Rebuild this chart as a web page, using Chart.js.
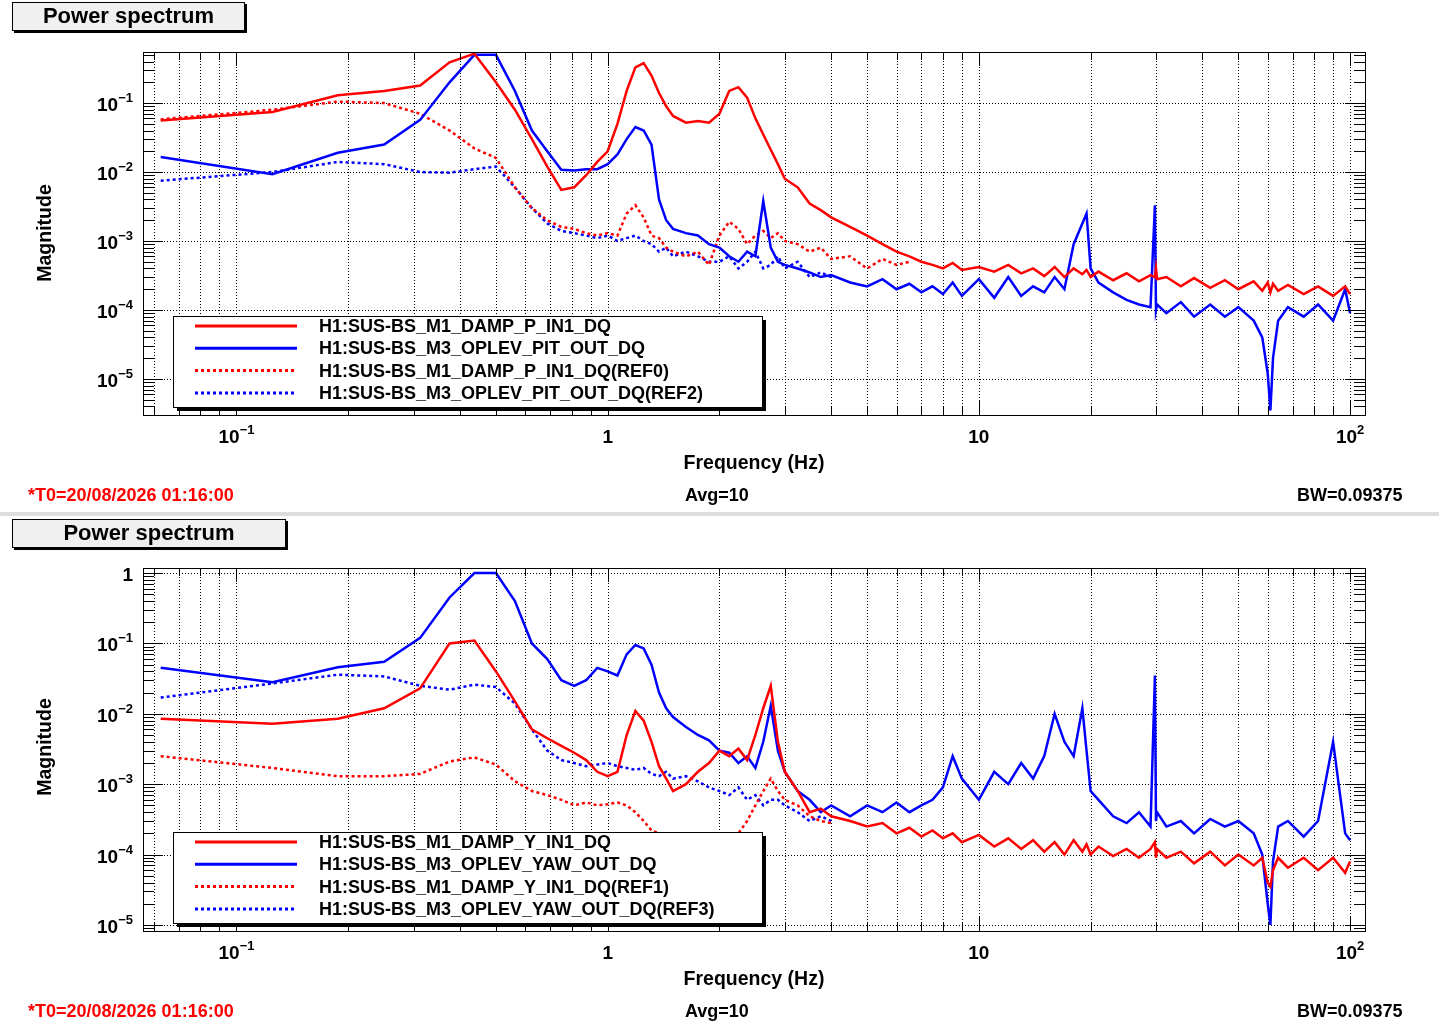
<!DOCTYPE html>
<html><head><meta charset="utf-8">
<script src="https://cdn.jsdelivr.net/npm/chart.js@4.4.0/dist/chart.umd.min.js"></script>
<style>
body{margin:0;background:#fff;width:1439px;height:1026px;overflow:hidden;position:relative;font-family:"Liberation Sans",Arial,sans-serif;font-weight:bold}
canvas{position:absolute;left:0}
.tb{position:absolute;left:12px;height:27px;background:#f0f0f0;border:1px solid #000;box-shadow:2px 2px 0 #000;font-size:22px;text-align:center;line-height:26px}
.ft{position:absolute;font-size:18px}
.sep{position:absolute;left:0;top:512px;width:1439px;height:4px;background:#ddd}
</style></head><body>
<canvas id="c1" width="1439" height="512" style="top:0"></canvas>
<canvas id="c2" width="1439" height="512" style="top:514px"></canvas>
<div class="sep"></div>
<div class="tb" style="top:2px;width:231px">Power spectrum</div>
<div class="tb" style="top:519px;width:272px">Power spectrum</div>
<div class="ft" style="left:28px;top:485px;color:#f00">*T0=20/08/2026 01:16:00</div>
<div class="ft" style="left:685px;top:485px">Avg=10</div>
<div class="ft" style="left:1297px;top:485px">BW=0.09375</div>
<div class="ft" style="left:28px;top:1001px;color:#f00">*T0=20/08/2026 01:16:00</div>
<div class="ft" style="left:685px;top:1001px">Avg=10</div>
<div class="ft" style="left:1297px;top:1001px">BW=0.09375</div>
<script>
const F=[0.0625,0.125,0.1875,0.25,0.3125,0.375,0.4375,0.5,0.5625,0.625,0.6875,0.75,0.8125,0.875,0.9375,1.0,1.0625,1.125,1.1875,1.25,1.3125,1.375,1.4375,1.5,1.625,1.75,1.875,2.0,2.125,2.25,2.375,2.5,2.625,2.75,2.875,3.0,3.25,3.5,3.75,4,4.5,5,5.5,6,6.5,7,7.5,8,8.5,9,10,11,12,13,14,15,16,17,18,19,19.5,20,21,23,25,27,29,29.8,30,30.2,32,35,38,42,46,50,55,58,60,61,62,64,68,75,82,90,97,100];

const pitchDamp=[0.056,0.074,0.13,0.15,0.18,0.39,0.52,0.2,0.08,0.03,0.012,0.0055,0.006,0.009,0.014,0.02,0.05,0.15,0.33,0.38,0.25,0.14,0.09,0.065,0.052,0.055,0.052,0.07,0.15,0.17,0.12,0.06,0.035,0.021,0.013,0.008,0.006,0.0035,0.0028,0.0022,0.0016,0.0012,0.0009,0.0007,0.0006,0.0005,0.00045,0.0004,0.00048,0.00038,0.00042,0.00036,0.00045,0.00034,0.0004,0.00031,0.00042,0.0003,0.0004,0.00033,0.00038,0.0003,0.00036,0.00027,0.00034,0.00026,0.00032,0.0003,0.0004,0.00028,0.0003,0.00022,0.00029,0.00021,0.00027,0.0002,0.00026,0.00019,0.00025,0.00018,0.00024,0.00019,0.00023,0.00017,0.00022,0.00016,0.00022,0.00017];
const pitchOplev=[0.0165,0.0093,0.019,0.025,0.057,0.2,0.5,0.5,0.15,0.04,0.02,0.0108,0.0105,0.011,0.011,0.013,0.018,0.03,0.045,0.04,0.025,0.004,0.002,0.0015,0.0013,0.0012,0.0009,0.0008,0.0006,0.0005,0.0007,0.0006,0.0038,0.0008,0.0005,0.00045,0.0004,0.00035,0.0003,0.00032,0.00025,0.00022,0.00028,0.0002,0.00024,0.00018,0.00022,0.00017,0.00025,0.00016,0.00028,0.00015,0.0003,0.00016,0.00022,0.00018,0.0003,0.0002,0.0009,0.0018,0.0025,0.0004,0.00025,0.00018,0.00014,0.00012,0.00011,0.0033,0.0001,0.00012,0.00009,0.00013,0.00008,0.00012,0.00008,0.00011,0.00007,0.00004,0.000012,0.0000035,0.00002,0.00007,0.00011,0.00008,0.00012,0.00007,0.0002,0.00009];
const pitchDampRef=[0.058,0.08,0.105,0.1,0.07,0.04,0.022,0.016,0.006,0.003,0.002,0.0016,0.0015,0.0013,0.0012,0.0013,0.0012,0.0025,0.0033,0.0022,0.0012,0.0011,0.0008,0.0007,0.0006,0.0007,0.00045,0.0012,0.0019,0.0015,0.0009,0.0012,0.0014,0.0011,0.0013,0.001,0.0009,0.0007,0.0008,0.00055,0.0006,0.0004,0.00055,0.00045,0.0005];
const pitchOplevRef=[0.0075,0.01,0.014,0.013,0.01,0.0098,0.011,0.012,0.006,0.003,0.0018,0.0014,0.0013,0.0012,0.0011,0.0012,0.001,0.0011,0.0012,0.001,0.0009,0.0007,0.0008,0.0006,0.0007,0.0006,0.0005,0.0005,0.0006,0.0004,0.0005,0.0007,0.0004,0.00045,0.0006,0.0004,0.0005,0.0003,0.00035,0.0003];

const yawDamp=[0.0085,0.0072,0.0085,0.012,0.023,0.1,0.11,0.04,0.015,0.006,0.0045,0.0035,0.0028,0.0022,0.0015,0.0013,0.0015,0.005,0.011,0.008,0.004,0.0018,0.0012,0.0008,0.001,0.0015,0.002,0.003,0.0025,0.0032,0.0022,0.005,0.012,0.025,0.004,0.0015,0.0008,0.0004,0.00045,0.00035,0.0003,0.00025,0.00028,0.0002,0.00024,0.00018,0.00022,0.00017,0.0002,0.00015,0.00019,0.00013,0.00017,0.00012,0.00016,0.00011,0.00015,0.0001,0.00016,0.00011,0.00014,0.0001,0.00013,0.000095,0.00012,0.00009,0.00012,0.00015,0.00009,0.00012,0.00009,0.00011,0.000075,0.00011,0.00007,0.0001,0.00007,0.00009,0.00004,0.000035,0.00006,0.00009,0.000065,0.00009,0.00006,0.00009,0.000055,0.00008];
const yawOplev=[0.045,0.028,0.046,0.055,0.12,0.45,1.0,1.0,0.4,0.1,0.06,0.03,0.025,0.03,0.045,0.04,0.035,0.07,0.095,0.085,0.05,0.02,0.012,0.009,0.0065,0.005,0.0042,0.003,0.0028,0.002,0.0025,0.0017,0.004,0.013,0.003,0.0015,0.0008,0.0006,0.0004,0.0005,0.00035,0.0005,0.0004,0.00055,0.0004,0.0005,0.0006,0.0009,0.0025,0.0012,0.0006,0.0015,0.001,0.002,0.0012,0.0025,0.01,0.004,0.0025,0.012,0.003,0.0008,0.0006,0.00035,0.00028,0.0004,0.00025,0.035,0.0003,0.0004,0.00025,0.0003,0.0002,0.00032,0.00025,0.0003,0.0002,0.0001,0.00002,0.00001,0.00008,0.00025,0.0003,0.00018,0.0003,0.004,0.0002,0.00016];
const yawDampRef=[0.0025,0.0017,0.0013,0.0013,0.0014,0.0021,0.0024,0.0019,0.0011,0.0008,0.0007,0.0006,0.0005,0.00055,0.0005,0.00052,0.00055,0.0005,0.0004,0.0003,0.00022,0.0002,0.00018,0.00017,0.00016,0.00016,0.00015,0.00014,0.00016,0.0002,0.0003,0.0005,0.0008,0.0012,0.0008,0.0006,0.0005,0.00035,0.0003,0.00028];
const yawOplevRef=[0.017,0.027,0.036,0.034,0.025,0.022,0.026,0.024,0.014,0.006,0.003,0.0022,0.002,0.0018,0.0019,0.002,0.0018,0.0017,0.0016,0.0017,0.0014,0.0013,0.0015,0.0012,0.0013,0.0011,0.0009,0.0008,0.0007,0.0009,0.0006,0.0007,0.0005,0.0006,0.0006,0.0005,0.0004,0.0003,0.00035,0.0003];

const xTicks=[{v:0.1,t:'10',e:'−1'},{v:1,t:'1',e:''},{v:10,t:'10',e:''},{v:100,t:'10',e:'2'}];
const yTicks1=[{v:0.1,e:'−1'},{v:0.01,e:'−2'},{v:0.001,e:'−3'},{v:0.0001,e:'−4'},{v:0.00001,e:'−5'}];
const yTicks2=[{v:1,e:''},{v:0.1,e:'−1'},{v:0.01,e:'−2'},{v:0.001,e:'−3'},{v:0.0001,e:'−4'},{v:0.00001,e:'−5'}];
const legend1=['H1:SUS-BS_M1_DAMP_P_IN1_DQ','H1:SUS-BS_M3_OPLEV_PIT_OUT_DQ','H1:SUS-BS_M1_DAMP_P_IN1_DQ(REF0)','H1:SUS-BS_M3_OPLEV_PIT_OUT_DQ(REF2)'];
const legend2=['H1:SUS-BS_M1_DAMP_Y_IN1_DQ','H1:SUS-BS_M3_OPLEV_YAW_OUT_DQ','H1:SUS-BS_M1_DAMP_Y_IN1_DQ(REF1)','H1:SUS-BS_M3_OPLEV_YAW_OUT_DQ(REF3)'];

const pts=a=>a.map((y,i)=>({x:F[i],y:y}));
const styles=[['#ff0000',[]],['#0000ff',[]],['#ff0000',[3,3]],['#0000ff',[3,3]]];

function frame(yTicks,legend){return {id:'frame',
 beforeDatasetsDraw(c){const g=c.ctx,a=c.chartArea,x=c.scales.x,y=c.scales.y;g.save();
  g.strokeStyle='#000';g.lineWidth=1;g.setLineDash([1,2]);
  for(let d=-2;d<=2;d++)for(let m=1;m<10;m++){const v=m*Math.pow(10,d);if(v<x.min||v>x.max)continue;const p=Math.round(x.getPixelForValue(v))+0.5;g.beginPath();g.moveTo(p,a.top);g.lineTo(p,a.bottom);g.stroke();}
  yTicks.forEach(t=>{const p=Math.round(y.getPixelForValue(t.v))+0.5;g.beginPath();g.moveTo(a.left,p);g.lineTo(a.right,p);g.stroke();});
  g.restore();},
 afterDraw(c){const g=c.ctx,a=c.chartArea,x=c.scales.x,y=c.scales.y;g.save();g.setLineDash([]);
  g.strokeStyle='#000';g.lineWidth=1;g.strokeRect(a.left+0.5,a.top+0.5,a.right-a.left,a.bottom-a.top);
  for(let d=-2;d<=2;d++)for(let m=1;m<10;m++){const v=m*Math.pow(10,d);if(v<x.min||v>x.max)continue;const p=Math.round(x.getPixelForValue(v))+0.5;const L=m==1?14:8;g.beginPath();g.moveTo(p,a.bottom);g.lineTo(p,a.bottom-L);g.moveTo(p,a.top);g.lineTo(p,a.top+L);g.stroke();}
  for(let d=-6;d<=1;d++)for(let m=1;m<10;m++){const v=m*Math.pow(10,d);if(v<y.min||v>y.max)continue;const p=Math.round(y.getPixelForValue(v))+0.5;const L=m==1?20:11;g.beginPath();g.moveTo(a.left,p);g.lineTo(a.left+L,p);g.moveTo(a.right,p);g.lineTo(a.right-L,p);g.stroke();}
  g.fillStyle='#000';g.textBaseline='alphabetic';
  xTicks.forEach(t=>{const p=x.getPixelForValue(t.v);g.font='bold 19px "Liberation Sans",Arial';const w1=g.measureText(t.t).width;g.font='bold 13px "Liberation Sans",Arial';const w2=t.e?g.measureText(t.e).width:0;const s=p-(w1+w2)/2;g.font='bold 19px "Liberation Sans",Arial';g.fillText(t.t,s,a.bottom+28);g.font='bold 13px "Liberation Sans",Arial';if(t.e)g.fillText(t.e,s+w1,a.bottom+19);});
  yTicks.forEach(t=>{const p=y.getPixelForValue(t.v);g.font='bold 13px "Liberation Sans",Arial';const w2=t.e?g.measureText(t.e).width:0;g.font='bold 19px "Liberation Sans",Arial';const txt=t.e?'10':'1';const w1=g.measureText(txt).width;const s=a.left-10-w1-w2;g.fillText(txt,s,p+8);g.font='bold 13px "Liberation Sans",Arial';if(t.e)g.fillText(t.e,s+w1,p-1);});
  g.font='bold 19.5px "Liberation Sans",Arial';g.textAlign='center';g.fillText('Frequency (Hz)',754,a.bottom+54);
  g.save();g.translate(51,233);g.rotate(-Math.PI/2);g.fillText('Magnitude',0,0);g.restore();
  const lx=173,ly=a.bottom-99,lw=589,lh=91;g.fillStyle='#000';g.fillRect(lx+4,ly+4,lw,lh);g.fillStyle='#fff';g.fillRect(lx,ly,lw,lh);g.strokeRect(lx+0.5,ly+0.5,lw,lh);
  g.textAlign='left';g.font='bold 18px "Liberation Sans",Arial';
  legend.forEach((t,i)=>{const yy=ly+10+i*22.3;g.strokeStyle=styles[i][0];g.lineWidth=3;g.setLineDash(styles[i][1]);g.beginPath();g.moveTo(195,yy);g.lineTo(297,yy);g.stroke();g.fillStyle='#000';g.fillText(t,319,yy+6);});
  g.restore();}};}

function mk(id,series,ymin,ymax,pad,yTicks,legend){
 new Chart(document.getElementById(id),{type:'line',
  data:{datasets:series.map((s,i)=>({data:pts(s),borderColor:styles[i][0],borderDash:styles[i][1],borderWidth:2.5,pointRadius:0,fill:false,tension:0}))},
  options:{responsive:false,animation:false,devicePixelRatio:1,layout:{padding:pad},
   plugins:{legend:{display:false},tooltip:{enabled:false}},
   scales:{x:{type:'logarithmic',min:0.056,max:109.7,display:false},y:{type:'logarithmic',min:ymin,max:ymax,display:false}}},
  plugins:[frame(yTicks,legend)]});}

mk('c1',[pitchDamp,pitchOplev,pitchDampRef,pitchOplevRef],3.0e-6,0.55,{left:143,right:74,top:52,bottom:97},yTicks1,legend1);
mk('c2',[yawDamp,yawOplev,yawDampRef,yawOplevRef],8.2e-6,1.18,{left:143,right:74,top:54,bottom:95},yTicks2,legend2);
</script></body></html>
